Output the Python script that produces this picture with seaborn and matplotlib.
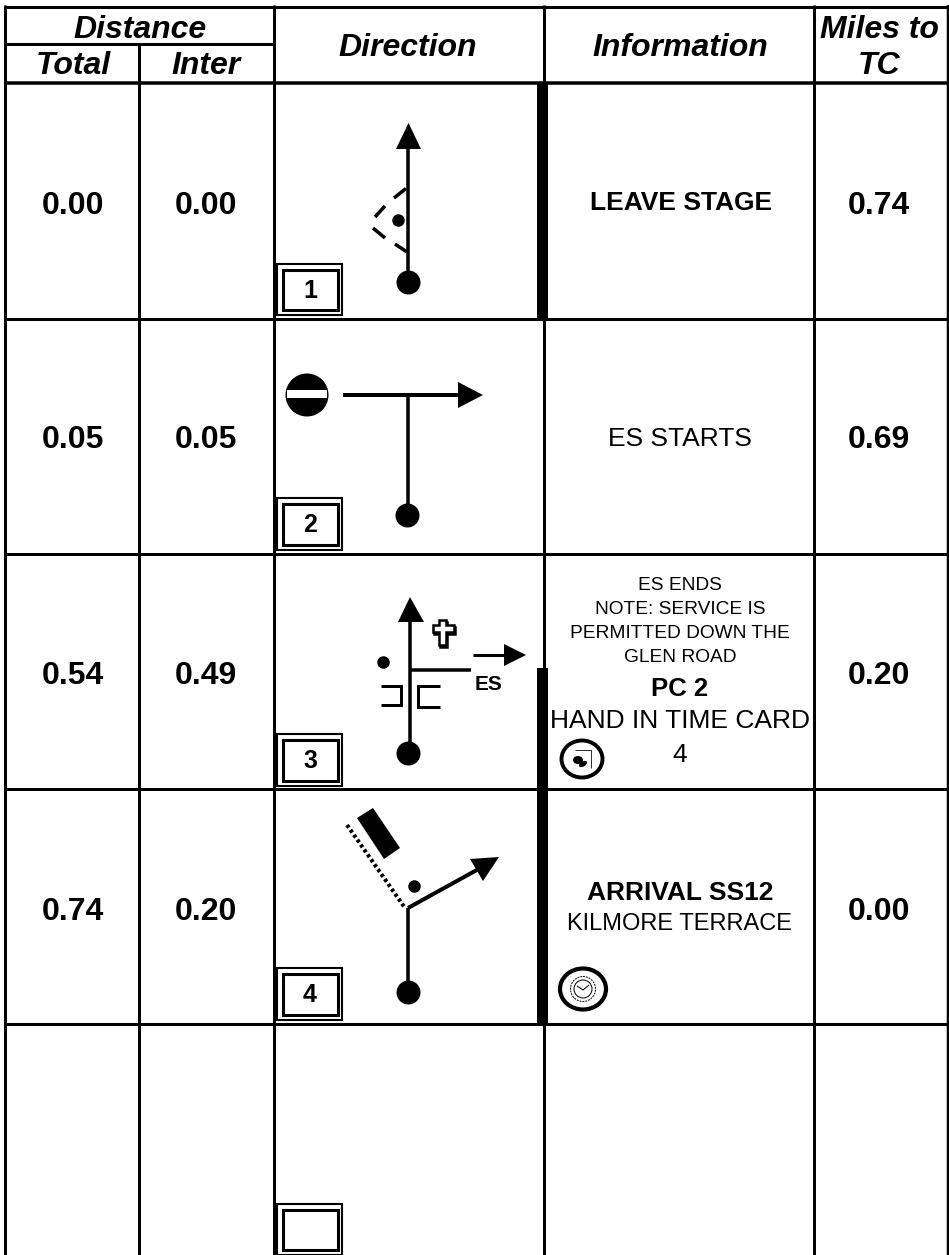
import matplotlib
matplotlib.use("Agg")
import matplotlib.pyplot as plt
from matplotlib.patches import Polygon, Rectangle, Ellipse, Circle
import pandas as pd
import seaborn as sns

# roadbook page, everything is placed in pixel coordinates of the page
total = ["0.00", "0.05", "0.54", "0.74"]
inter = ["0.00", "0.05", "0.49", "0.20"]
miles = ["0.74", "0.69", "0.20", "0.00"]
tulip_no = ["1", "2", "3", "4", ""]
col_titles = ["Direction", "Information"]
leave = "LEAVE STAGE"
es_start = "ES STARTS"
note_lines = ["ES ENDS", "NOTE: SERVICE IS", "PERMITTED DOWN THE", "GLEN ROAD"]

sns.set_theme(style="white")
plt.rcParams['font.family'] = ['Liberation Sans', 'DejaVu Sans']

W, H = 949, 1255
fig = plt.figure(figsize=(W / 100, H / 100), dpi=100)
ax = fig.add_axes([0, 0, 1, 1])
ax.set_xlim(0, W)
ax.set_ylim(H, 0)
ax.axis("off")

PX = 0.72  # one pixel in points at dpi 100


def line(xs, ys, px=3.0, **kw):
    kw.setdefault("solid_capstyle", "butt")
    ax.plot(xs, ys, color="black", lw=px * PX, **kw)


def label(x, y, s, size=19, weight="normal", style="normal"):
    ax.text(x, y, s, ha="center", va="center_baseline", fontsize=size,
            fontweight=weight, fontstyle=style, color="black")


def head(pts):
    ax.add_patch(Polygon(pts, closed=True, fc="black", ec="none", zorder=3))


def dots(xs, ys, px):
    df = pd.DataFrame({"x": xs, "y": ys})
    sns.scatterplot(data=df, x="x", y="y", ax=ax, color="black",
                    s=(px * PX) ** 2, linewidth=0, legend=False, zorder=4)


def tulip_box(y0, y1, s):
    ax.add_patch(Rectangle((277.5, y0), 65, y1 - y0, fc="white", ec="black", lw=1.5, zorder=2))
    ax.add_patch(Rectangle((283, y0 + 5.5), 55, y1 - y0 - 11, fc="white", ec="black", lw=2.2, zorder=2))
    if s:
        ax.text(310, (y0 + y1) / 2 - 1, s, ha="center", va="center_baseline",
                fontsize=18, fontweight="bold", color="black", zorder=3)


# grid
line([4, 949], [6.5, 6.5], 3)
line([5.5, 274], [44, 44], 3)
line([4, 949], [83, 83], 3.5)
for y in [318.5, 553.5, 788.5, 1023.5]:
    line([4, 949], [y, y], 3)
line([5.5, 5.5], [5, H], 3)
line([139.5, 139.5], [44, H], 3)
line([274.5, 274.5], [5, H], 3)
line([544, 544], [5, H], 3)
line([814, 814], [5, H], 3)
line([948, 948], [5, H], 2.5)

# heavy bar beside the tulips
ax.add_patch(Rectangle((537, 83), 11, 235, fc="black", ec="none", zorder=3))
ax.add_patch(Rectangle((537, 668), 11, 355, fc="black", ec="none", zorder=3))

# headers
label(140, 26, "Distance", 23, "bold", "italic")
label(73, 63, "Total", 23, "bold", "italic")
label(206, 63, "Inter", 23, "bold", "italic")
label(408, 44, col_titles[0], 23, "bold", "italic")
label(680, 44, col_titles[1], 23, "bold", "italic")
label(879, 26, "Miles to", 23, "bold", "italic")
label(879, 63, "TC", 23, "bold", "italic")

# distances
row_y = [202, 437, 673, 908]
for y, a, b, c in zip(row_y, total, inter, miles):
    label(73, y, a, 23, "bold")
    label(206, y, b, 23, "bold")
    label(879, y, c, 23, "bold")

# tulip number boxes
for (y0, y1), s in zip([(264, 315), (498, 550), (734, 786), (968, 1020), (1204, 1255)], tulip_no):
    tulip_box(y0, y1, s)

# row 1 tulip
line([408.5, 408.5], [272, 148], 3.5)
head([(408.5, 123), (396, 149), (421, 149)])
for xs, ys in [([406, 394], [188.5, 198]), ([385, 375], [206, 217]),
               ([373, 385], [228, 238]), ([395, 407], [244, 252])]:
    line(xs, ys, 3.5)

# row 2 tulip
ax.add_patch(Circle((307, 395), 21.5, fc="black", ec="none"))
ax.add_patch(Rectangle((287, 390), 40, 8, fc="white", ec="none", zorder=3))
line([343, 460], [395, 395], 4)
head([(483, 395), (458, 382), (458, 408)])
line([408, 408], [395, 515], 3.5)

# row 3 tulip
line([410, 410], [750, 620], 3.5)
head([(410, 597), (398, 622), (424, 622)])
line([410, 471], [670, 670], 3.5)
line([473, 506], [655, 655], 3)
head([(526, 655), (504, 644), (504, 666)])
ax.text(489, 682, "ES", ha="center", va="center_baseline", fontsize=15, fontweight="bold", color="black")
line([381, 401, 401, 381], [686, 686, 705, 705], 3, solid_joinstyle="miter")
line([440, 418, 418, 440], [686, 686, 707, 707], 3, solid_joinstyle="miter")
cross = [(439, 620), (446, 620), (446, 625), (454, 625), (454, 632), (446, 632),
         (446, 645), (439, 645), (439, 632), (433, 632), (433, 625), (439, 625)]
ax.add_patch(Polygon([(x + 1.5, y + 1.5) for x, y in cross], closed=True, fc="black", ec="black", lw=1.8))
ax.add_patch(Polygon(cross, closed=True, fc="white", ec="black", lw=1.8))

# row 4 tulip
line([408, 408], [992, 908], 3.5)
line([408, 484], [908, 866], 4)
head([(499, 857), (470, 859), (483, 881)])
line([347, 405], [825, 908], 4, linestyle=(0, (0.8, 0.7)))
ax.add_patch(Polygon([(357, 818), (373, 808), (400, 848), (384, 859)], closed=True, fc="black", ec="none"))

# junction and start dots
dots([408.5, 407, 408, 408], [282, 515, 753, 992], 24)
dots([398, 383, 414], [220, 662, 886], 12.5)

# information column
label(681, 200, leave, 19, "bold")
label(680, 437, es_start, 19)
for y, s in zip([583, 607, 631, 656], note_lines):
    label(680, y, s, 13.8)
label(680, 687, "PC 2", 18.5, "bold")
label(680, 719, "HAND IN TIME CARD", 19)
label(680, 752, "4", 19)
label(680, 890, "ARRIVAL SS12", 19, "bold")
label(680, 922, "KILMORE TERRACE", 17)

# time card icon
ax.add_patch(Ellipse((582, 759), 41, 37, fc="white", ec="black", lw=2.8, zorder=4))
line([575, 591, 591], [750, 750, 768], 0.8, zorder=5)
ax.add_patch(Ellipse((578, 760), 10, 8, fc="black", ec="none", zorder=5))
ax.add_patch(Ellipse((583, 764), 9, 5, angle=-30, fc="black", ec="none", zorder=5))

# clock icon
ax.add_patch(Ellipse((583, 989), 46, 41, fc="white", ec="black", lw=3.0, zorder=4))
ax.add_patch(Circle((583, 989), 12.5, fc="white", ec="black", lw=0.7, ls=(0, (2, 1)), zorder=5))
ax.add_patch(Circle((583, 989), 9, fc="white", ec="black", lw=0.7, zorder=5))
line([577, 583, 589], [986, 990, 985], 1.0, zorder=6)

fig.savefig("out.png", dpi=100, facecolor="white")
